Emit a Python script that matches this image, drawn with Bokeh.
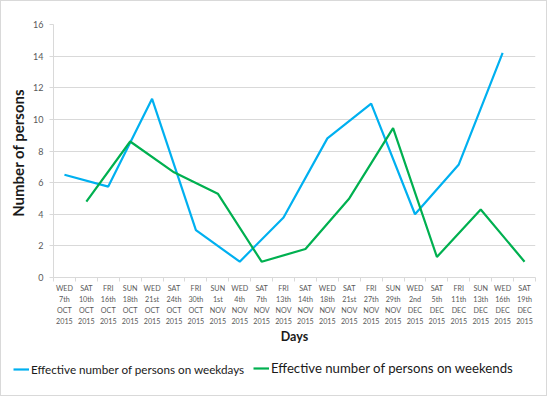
from bokeh.plotting import figure
from bokeh.layouts import column, row
from bokeh.models import Range1d, FixedTicker, Legend, LegendItem
from bokeh.embed import file_html
from bokeh.resources import INLINE

# Survey days (x categories)
days = [
    "WED 7th OCT 2015", "SAT 10th OCT 2015", "FRI 16th OCT 2015", "SUN 18th OCT 2015",
    "WED 21st OCT 2015", "SAT 24th OCT 2015", "FRI 30th OCT 2015", "SUN 1st NOV 2015",
    "WED 4th NOV 2015", "SAT 7th NOV 2015", "FRI 13th NOV 2015", "SAT 14th NOV 2015",
    "WED 18th NOV 2015", "SAT 21st NOV 2015", "FRI 27th NOV 2015", "SUN 29th NOV 2015",
    "WED 2nd DEC 2015", "SAT 5th DEC 2015", "FRI 11th DEC 2015", "SUN 13th DEC 2015",
    "WED 16th DEC 2015", "SAT 19th DEC 2015",
]

weekday_days = [
    "WED 7th OCT 2015", "FRI 16th OCT 2015", "WED 21st OCT 2015", "FRI 30th OCT 2015",
    "WED 4th NOV 2015", "FRI 13th NOV 2015", "WED 18th NOV 2015", "FRI 27th NOV 2015",
    "WED 2nd DEC 2015", "FRI 11th DEC 2015", "WED 16th DEC 2015",
]
weekday_values = [6.5, 5.75, 11.3, 3.0, 1.0, 3.8, 8.8, 11.0, 4.0, 7.15, 14.2]

weekend_days = [
    "SAT 10th OCT 2015", "SUN 18th OCT 2015", "SAT 24th OCT 2015", "SUN 1st NOV 2015",
    "SAT 7th NOV 2015", "SAT 14th NOV 2015", "SAT 21st NOV 2015", "SUN 29th NOV 2015",
    "SAT 5th DEC 2015", "SUN 13th DEC 2015", "SAT 19th DEC 2015",
]
weekend_values = [4.8, 8.6, 6.65, 5.3, 1.0, 1.8, 5.0, 9.45, 1.3, 4.3, 1.0]

y_ticks = [0, 2, 4, 6, 8, 10, 12, 14, 16]

series_labels = ["Effective number of persons on weekdays",
                 "Effective number of persons on weekends"]

FONT = "Lato"
BLUE = "#00b0f0"
GREEN = "#00b050"
GRID = "#d9d9d9"
TEXT = "#1a1a1a"
TICK_TEXT = "#595959"

# each day occupies one unit slot; marks sit at slot centres
centre = {d: i + 0.5 for i, d in enumerate(days)}
week_x = [centre[d] for d in weekday_days]
end_x = [centre[d] for d in weekend_days]

p = figure(
    width=545, height=348,
    x_range=Range1d(0, len(days)), y_range=Range1d(y_ticks[0], y_ticks[-1]),
    output_backend="svg", toolbar_location=None,
    min_border_left=52, min_border_right=11, min_border_top=23, min_border_bottom=72,
)
p.outline_line_color = None
p.background_fill_color = "white"
p.border_fill_color = "white"

p.line(week_x, weekday_values, line_color=BLUE, line_width=2.2)
p.line(end_x, weekend_values, line_color=GREEN, line_width=2.2)

# x axis: labels at slot centres, tick marks between slots
xa = p.xaxis[0]
xa.ticker = FixedTicker(ticks=[centre[d] for d in days],
                        minor_ticks=list(range(len(days) + 1)))
xa.major_label_overrides = {centre[d]: d.replace(" ", "\n") for d in days}
xa.major_tick_out = 0
xa.major_tick_in = 0
xa.minor_tick_out = 4
xa.minor_tick_in = 0
xa.minor_tick_line_color = GRID
xa.axis_line_color = GRID
xa.major_label_text_font = FONT
xa.major_label_text_font_size = "7.2px"
xa.major_label_text_color = TICK_TEXT
xa.major_label_text_line_height = 1.25
xa.major_label_standoff = 2
xa.axis_label = "Days"
xa.axis_label_text_font = FONT
xa.axis_label_text_font_size = "12.5px"
xa.axis_label_text_font_style = "bold"
xa.axis_label_text_color = TEXT
xa.axis_label_standoff = 0

ya = p.yaxis[0]
ya.ticker = FixedTicker(ticks=y_ticks)
ya.minor_tick_line_color = None
ya.major_tick_out = 4
ya.major_tick_in = 0
ya.major_tick_line_color = GRID
ya.axis_line_color = GRID
ya.major_label_text_font = FONT
ya.major_label_text_font_size = "9px"
ya.major_label_text_color = TICK_TEXT
ya.major_label_standoff = 6
ya.axis_label = "Number of  persons"
ya.axis_label_text_font = FONT
ya.axis_label_text_font_size = "15px"
ya.axis_label_text_font_style = "bold"
ya.axis_label_text_color = TEXT
ya.axis_label_standoff = 3

p.xgrid.grid_line_color = None
p.ygrid.grid_line_color = GRID
p.ygrid.ticker = FixedTicker(ticks=y_ticks)

# legend strip under the chart; its view window sits away from the data,
# so only the legend keys are visible
lg = figure(width=545, height=46, x_range=Range1d(0, 1), y_range=Range1d(-2, -1),
            output_backend="svg", toolbar_location=None,
            x_axis_location=None, y_axis_location=None,
            min_border_left=0, min_border_right=0, min_border_top=0, min_border_bottom=0)
lg.grid.visible = False
lg.outline_line_color = None
lg.border_fill_color = "white"
k_week = lg.line(week_x, weekday_values, line_color=BLUE, line_width=2.2)
k_end = lg.line(end_x, weekend_values, line_color=GREEN, line_width=2.2)

common = dict(border_line_color=None, background_fill_alpha=0, padding=0, margin=0,
              glyph_width=16, glyph_height=10, label_standoff=2, spacing=0,
              label_text_font=FONT, label_text_color=TEXT, label_height=12)
lg.add_layout(Legend(items=[LegendItem(label=series_labels[0], renderers=[k_week])],
                     location=(12, 19), label_text_font_size="11.7px", **common))
lg.add_layout(Legend(items=[LegendItem(label=series_labels[1], renderers=[k_end])],
                     location=(252, 19), label_text_font_size="13.2px", **common))

page = column(p, row(lg), spacing=0)
page.styles = {"border": "1px solid #d9d9d9"}

open("out.html", "w").write(file_html(page, INLINE))
